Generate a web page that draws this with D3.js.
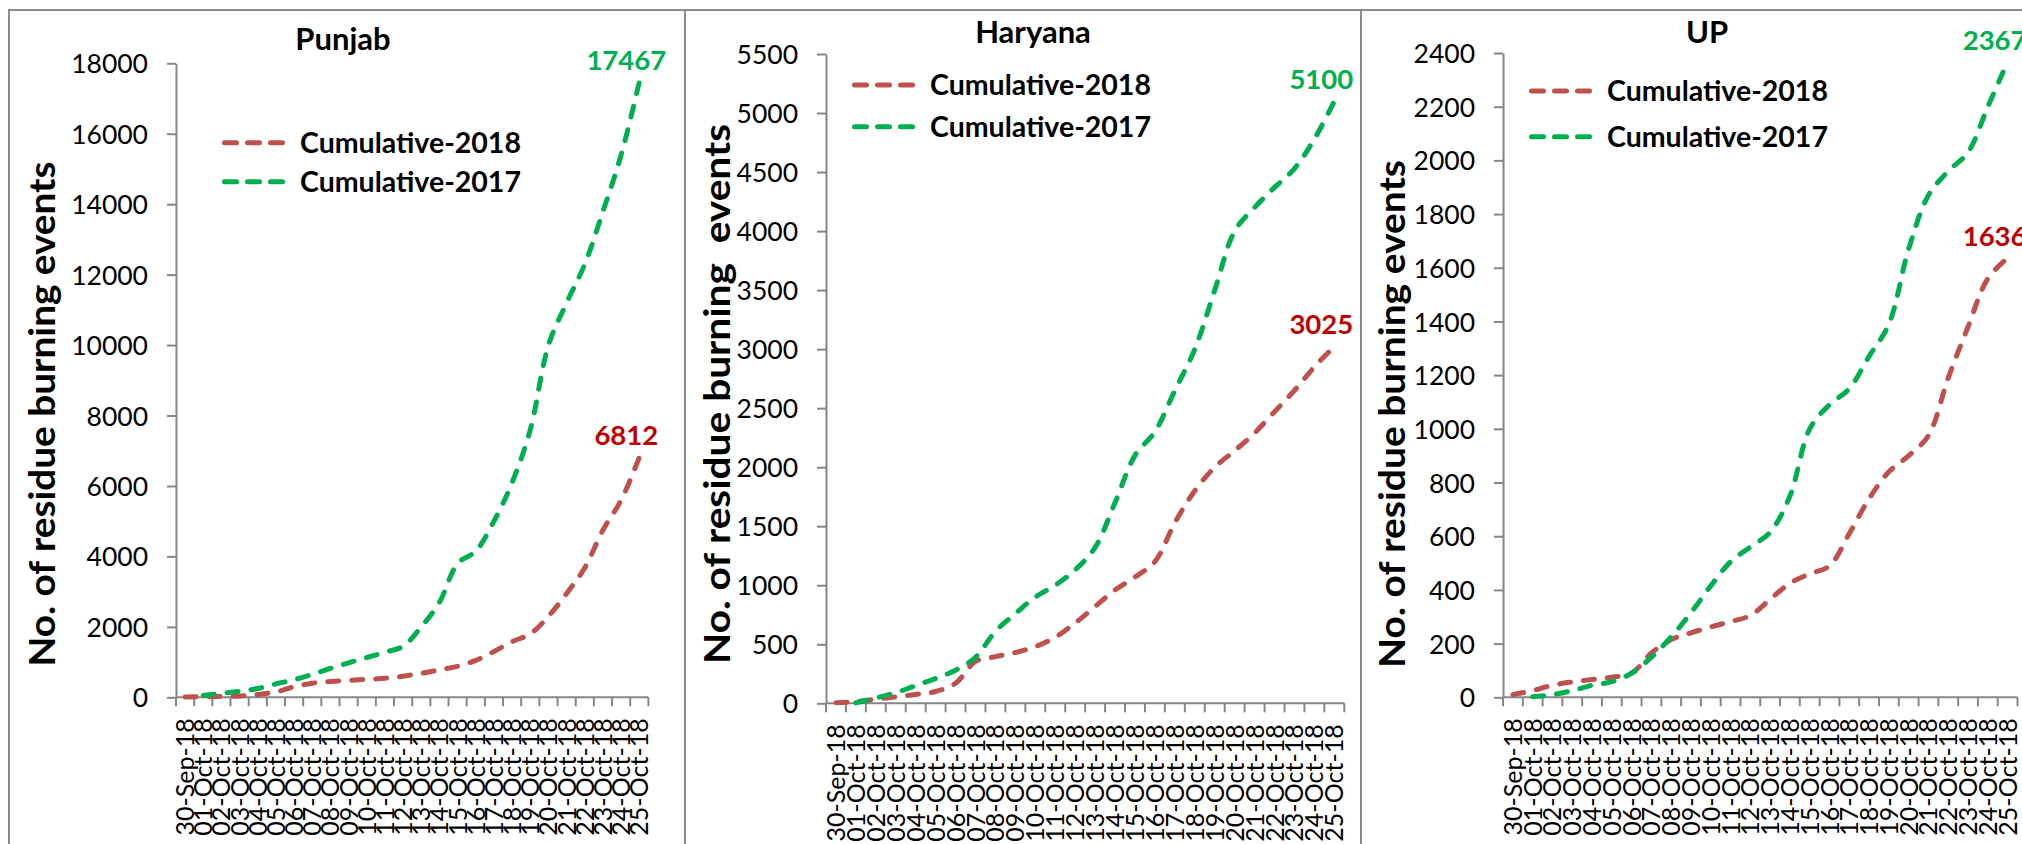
<!DOCTYPE html>
<html><head><meta charset="utf-8">
<script src="https://cdn.jsdelivr.net/npm/d3@7/dist/d3.min.js"></script>
<style>
body{margin:0;background:#fff;overflow:hidden}
svg{display:block}
text{font-family:Lato, "Open Sans", sans-serif;fill:#000}
</style>
</head><body>
<svg id="chart" width="2022" height="844"></svg>
<script>
// ---------- data ----------
const categories = ["30-Sep-18","01-Oct-18","02-Oct-18","03-Oct-18","04-Oct-18","05-Oct-18","06-Oct-18",
  "07-Oct-18","08-Oct-18","09-Oct-18","10-Oct-18","11-Oct-18","12-Oct-18","13-Oct-18","14-Oct-18",
  "15-Oct-18","16-Oct-18","17-Oct-18","18-Oct-18","19-Oct-18","20-Oct-18","21-Oct-18","22-Oct-18",
  "23-Oct-18","24-Oct-18","25-Oct-18"];
const seriesNames = ["Cumulative-2018", "Cumulative-2017"];
const panelTitles = ["Punjab", "Haryana", "UP"];
const yAxisTitles = ["No. of residue burning events", "No. of residue burning  events", "No. of residue burning events"];

const punjab2018 = [10,15,25,40,80,150,300,400,450,480,510,540,600,680,780,880,1050,1300,1580,1800,2300,2950,3680,4750,5600,6812];
const punjab2017 = [null,50,110,170,250,380,500,650,820,980,1130,1280,1450,2000,2700,3800,4150,5000,6100,7600,10000,11200,12300,13800,15400,17467];
const haryana2018 = [5,15,35,55,75,100,170,355,395,430,480,560,680,820,960,1070,1200,1530,1800,2000,2140,2290,2470,2650,2850,3025];
const haryana2017 = [null,5,45,90,150,210,280,390,610,760,900,1000,1130,1320,1700,2100,2300,2650,3000,3500,4000,4200,4370,4530,4780,5100];
const up2018 = [10,25,45,57,66,75,90,165,215,240,262,282,305,365,425,460,490,610,740,840,900,975,1190,1380,1560,1636];
const up2017 = [null,2,10,25,45,58,90,150,225,315,415,505,560,615,750,1000,1090,1150,1270,1390,1670,1870,1960,2030,2200,2367];

const yMaxes = [18000, 5500, 2400];
const ySteps = [2000, 500, 200];

// ---------- layout (positions/styles only) ----------
const layout = [
  {left:9,   right:685,  x0:176,  x1:648.4,  yTop:63.3, yZero:697.3, titleX:343,  titleY:50, legX:222,  legY:142.7, legGap:39,   yTitleX:55,   yTitleY:414, yTitleLen:505},
  {left:685, right:1361, x0:826,  x1:1344.3, yTop:54,   yZero:703.3, titleX:1033, titleY:43, legX:852,  legY:85,    legGap:41.7, yTitleX:730,  yTitleY:394, yTitleLen:540},
  {left:1361,right:2060, x0:1503, x1:2017.5, yTop:53,   yZero:697.3, titleX:1707, titleY:43, legX:1529, legY:91,    legGap:45.7, yTitleX:1405, yTitleY:414, yTitleLen:508}
];
const seriesData = [[punjab2018, punjab2017],[haryana2018, haryana2017],[up2018, up2017]];
const lineColors = ["#C0504D", "#00B050"];
const labelColors = ["#C00000", "#00B050"];
const axisColor = "#868686";
const borderColor = "#8a8a8a";

const svg = d3.select("#chart");
svg.append("rect").attr("width",2022).attr("height",844).attr("fill","#fff");

layout.forEach((L, p) => {
  const g = svg.append("g");
  // panel border
  g.append("rect").attr("x",L.left).attr("y",10).attr("width",L.right-L.left).attr("height",900)
    .attr("fill","none").attr("stroke",borderColor).attr("stroke-width",2);

  const x = d3.scaleBand().domain(categories).range([L.x0, L.x1]).padding(0);
  const bw = x.bandwidth();
  const y = d3.scaleLinear().domain([0, yMaxes[p]]).range([L.yZero, L.yTop]);

  // y axis
  const yTicks = d3.range(0, yMaxes[p] + ySteps[p]/2, ySteps[p]);
  const ya = g.append("g").attr("transform",`translate(${L.x0},0)`)
    .call(d3.axisLeft(y).tickValues(yTicks).tickSize(9).tickSizeOuter(0).tickPadding(19).tickFormat(d3.format("d")));
  ya.select(".domain").attr("stroke",axisColor).attr("stroke-width",2);
  ya.selectAll(".tick line").attr("stroke",axisColor).attr("stroke-width",2);
  ya.selectAll(".tick text").attr("font-size",26.5).attr("font-family","Lato").attr("fill","#000").attr("dy","0.36em");

  // x axis line + boundary ticks
  const xg = g.append("g");
  xg.append("line").attr("x1",L.x0).attr("x2",L.x1).attr("y1",L.yZero).attr("y2",L.yZero)
    .attr("stroke",axisColor).attr("stroke-width",2);
  const bounds = categories.map(c => x(c)).concat([x(categories[categories.length-1]) + bw]);
  xg.selectAll("line.tk").data(bounds).join("line").attr("class","tk")
    .attr("x1",d=>d).attr("x2",d=>d).attr("y1",L.yZero).attr("y2",L.yZero+9)
    .attr("stroke",axisColor).attr("stroke-width",2);
  xg.selectAll("text").data(categories).join("text")
    .attr("transform", d => `translate(${x(d)+bw/2},${L.yZero+21}) rotate(-90)`)
    .attr("text-anchor","end").attr("dy","0.36em").attr("font-size",25)
    .text(d => d);

  // lines
  const line = d3.line()
    .defined(d => d != null)
    .x((d,i) => x(categories[i]) + bw/2)
    .y(d => y(d))
    .curve(d3.curveCatmullRom.alpha(0.5));
  seriesData[p].forEach((vals, s) => {
    g.append("path").datum(vals).attr("d", line).attr("fill","none")
      .attr("stroke", lineColors[s]).attr("stroke-width",5)
      .attr("stroke-dasharray","11,13").attr("stroke-linecap","round");
  });
  // end labels
  seriesData[p].forEach((vals, s) => {
    const last = vals.length - 1;
    g.append("text")
      .attr("x", x(categories[last]) + bw/2 - 13)
      .attr("y", y(vals[last]) - 12)
      .attr("text-anchor","middle").attr("font-size",27.5).attr("font-weight","bold")
      .style("fill", labelColors[s]).text(vals[last]);
  });

  // titles
  g.append("text").attr("x",L.titleX).attr("y",L.titleY).attr("text-anchor","middle")
    .attr("font-size",31).attr("font-weight","bold").text(panelTitles[p]);
  g.append("text").attr("transform",`translate(${L.yTitleX},${L.yTitleY}) rotate(-90)`)
    .attr("text-anchor","middle").attr("font-size",36).attr("font-weight","bold")
    .attr("textLength", L.yTitleLen).attr("lengthAdjust","spacingAndGlyphs")
    .style("white-space","pre").attr("xml:space","preserve").text(yAxisTitles[p]);

  // legend
  seriesNames.forEach((nm, s) => {
    const ly = L.legY + s * L.legGap;
    g.append("line").attr("x1",L.legX+2.5).attr("x2",L.legX+65-2.5).attr("y1",ly).attr("y2",ly)
      .attr("stroke",lineColors[s]).attr("stroke-width",5)
      .attr("stroke-dasharray","12,11").attr("stroke-linecap","round");
    g.append("text").attr("x",L.legX+78).attr("y",ly+10).attr("font-size",28.5).attr("font-weight","bold").text(nm);
  });
});
</script>
</body></html>
